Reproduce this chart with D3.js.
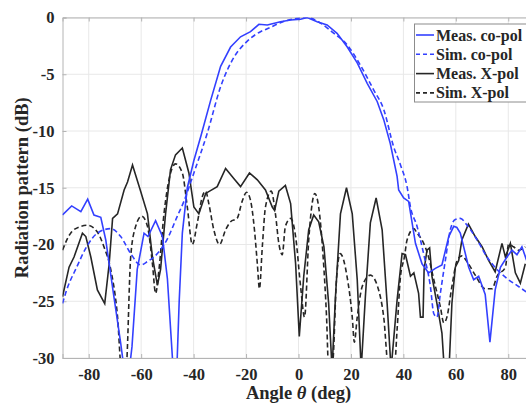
<!DOCTYPE html>
<html>
<head>
<meta charset="utf-8">
<script src="https://cdn.jsdelivr.net/npm/d3@7"></script>
<style>
  body { margin: 0; background: #fff; }
  svg { display: block; }
  text { font-family: "Liberation Serif", "Times New Roman", serif; font-weight: bold; fill: #262626; }
</style>
</head>
<body>
<div id="chart"></div>
<script>
// angle (deg) / level (dB), one pair of arrays per trace
const measCoAngle = [-90,-86.5,-83,-80.4,-78,-75.4,-73.5,-70.4,-67.8,-66.5,-64.5,-63.5,-61.5,-58.9,-57.4,-54.5,-51.9,-50,-47.8,-46.4,-45.5,-44.3,-42.4,-39.9,-37.3,-33.5,-29.7,-25.9,-22.1,-18.3,-15.1,-11.9,-6.9,-3,0.8,3.3,7.1,10.9,14.7,18.6,22.4,26.2,30,32.5,35,37.6,38.2,40.1,42,44.6,47.1,49.6,52.2,54.7,57.3,59.2,60.4,61.7,64.9,66.8,68.7,71.2,73,75,77,79.5,81.4,83.3,85.2,87]
const measCo = [-17.4,-16.6,-17.1,-16,-17.4,-17.6,-19.6,-24.6,-28.7,-31,-31,-29,-22.2,-19,-19.3,-17.9,-19.3,-23,-31,-31,-25,-19,-15,-12.6,-10.5,-7.3,-4.3,-2.6,-1.7,-1.25,-0.6,-0.66,-0.37,-0.22,-0.16,0,-0.37,-0.66,-1.4,-2.6,-4,-5.8,-7.4,-9,-11.1,-14,-15.2,-15.9,-16.2,-19.9,-21.7,-22.5,-22.1,-21.8,-19.3,-18.4,-18.5,-19,-22,-23.1,-22.8,-24.4,-28.6,-24,-22,-21.1,-20.5,-20.9,-20.2,-21.4]

const simCoAngle = [-90,-88.4,-84.6,-80.8,-76.7,-71.6,-67.8,-64,-60.2,-57.6,-53.8,-50,-46.2,-43.7,-39.9,-34.8,-29.7,-24.6,-19.6,-14.5,-11.9,-6.9,-0.5,3.3,8.4,13.5,18.5,23.6,28.7,32.5,36.3,38.9,41.4,42.7,45.2,47.7,50.3,51.6,52.8,54.1,56,57.9,59.8,61.7,64.3,68.1,71.9,75.7,79.5,83.3,87]
const simCo = [-25.2,-24,-22,-20.2,-19,-18.6,-19.3,-20.8,-21.8,-21.5,-20.8,-19.5,-17.5,-16.2,-13.7,-10.2,-6.1,-3.5,-2.1,-1.25,-1,-0.46,-0.07,0,-0.5,-1.4,-2.4,-4.2,-6.4,-8.1,-11.4,-13,-14.9,-16.7,-18.4,-20.8,-23.7,-26.1,-26.4,-24.3,-21.4,-18.7,-17.8,-17.7,-18.3,-19.6,-21.1,-22.2,-23,-23.6,-24.2]

const measXAngle = [-90,-87.5,-85.6,-82.4,-81.1,-79.2,-76.7,-73.9,-72.2,-70.9,-69,-66.5,-65.2,-63.3,-60.2,-57.6,-55.7,-53.8,-52.6,-50.7,-48.8,-46.9,-44.3,-41.8,-39.9,-38,-35.4,-31,-27.8,-24.6,-22.1,-18.7,-15.7,-12.6,-10,-9.1,-7.5,-5,-3,-1.1,0.3,2,3.9,5.8,7.7,9.7,11.5,12.8,14.1,16,18.3,20.5,22.4,23.9,25.5,27.4,29.6,31.9,33.8,35.3,37.6,39.5,40.8,42.7,44,45.8,46.5,47.5,47.9,49,50,50.9,52.8,54.7,55.6,57.4,58.5,59.8,61.1,62.3,64.8,67.4,70,72.5,75,77.6,78.9,80.8,82.7,84.6,86.5]
const measX = [-24.6,-22,-21.1,-19,-19.3,-21.1,-24,-25.2,-21.7,-17.7,-17.3,-15.2,-14.5,-13,-15.3,-17.3,-21.1,-23.6,-22.2,-17.3,-13.4,-12.1,-11.5,-13.7,-16.7,-17.3,-15.5,-14.9,-13.3,-14.2,-14.9,-13.7,-14.3,-15.2,-16.7,-17,-15.3,-14.8,-16.4,-21.7,-28.1,-22.8,-18.7,-17.4,-18,-20.2,-25.2,-31,-24.6,-17.3,-15,-17.3,-23.1,-31,-24.6,-18.1,-15.9,-18.7,-25.2,-31,-24.9,-20.8,-20.9,-22.8,-22.5,-24.3,-26.4,-26.4,-22.2,-20.5,-20.3,-22.8,-25.2,-27.8,-31,-31,-25.2,-22,-21.4,-19.6,-18.2,-19.3,-20.2,-21.4,-22.4,-19.9,-21.1,-19.9,-22.5,-23.4,-21.7]

const simXAngle = [-90,-86.9,-83,-80.5,-76.7,-74.2,-71.6,-69,-67.5,-65.8,-64,-62.1,-59.8,-57.6,-55.7,-54.5,-53.2,-51.3,-49.4,-46.9,-44.3,-42.4,-40.5,-38.6,-36.7,-35.4,-34.2,-32.3,-30.1,-27.8,-25.9,-23.4,-21.5,-19.8,-18.3,-16.8,-15.7,-14.9,-13.8,-12.6,-10.4,-8.8,-7.5,-6.2,-5,-3,-1.1,0.8,2.3,3.9,5.2,6.2,7.7,9.4,10.7,11.5,13,14.5,15.9,18.5,20.5,21.3,22.4,24.3,27.4,30,32.5,34.4,36.5,37.6,38.9,40.4,41.4,44,45.2,47.1,49.6,51.6,54.1,55.4,56.6,58.5,60.5,62.3,64.5,67.4,71.2,73.8,75.7,78.9,80.1,82,83.9,86.5]
const simX = [-20.5,-19,-18.4,-18.3,-18.9,-20.2,-22.2,-26.4,-31,-31,-21.1,-18.4,-17.5,-18.4,-21.7,-24.3,-22.2,-17.3,-14.3,-12.9,-13.7,-16.7,-20,-18.1,-15.8,-15.3,-16.4,-18.7,-20,-18.7,-18,-17.7,-16.2,-15.4,-16.1,-18.7,-21.7,-23.9,-20.2,-16.7,-15.3,-17.3,-19.9,-20.9,-18.4,-17.7,-19.3,-23.7,-26.4,-19.6,-16.4,-15.5,-16.7,-21.1,-26.4,-31,-30.5,-23,-20.8,-22.8,-26.4,-28.6,-26.4,-23.7,-22.7,-23.6,-26.4,-31,-31,-27.5,-22.8,-21.1,-19.6,-18.6,-19,-19.6,-21.1,-23.1,-25.5,-26.9,-26.4,-23.7,-21.4,-21,-21.6,-22.7,-23.9,-23.9,-22.8,-22,-20,-20.2,-20.5,-20.2]

const xTicks = [-80, -60, -40, -20, 0, 20, 40, 60, 80]
const yTicks = [0, -5, -10, -15, -20, -25, -30]
const legendNames = ["Meas. co-pol", "Sim. co-pol", "Meas. X-pol", "Sim. X-pol"]

const width = 526, height = 405
const plotLeft = 62.5, plotTop = 17.5, plotBottom = 358, plotRight = 534.5
const serif = '"Liberation Serif", "Times New Roman", serif'

const svg = d3.select("#chart")
    .append("svg")
    .attr("width", width)
    .attr("height", height)

const x = d3.scaleLinear().domain([-90, 90]).range([plotLeft, plotRight])
const y = d3.scaleLinear().domain([-30, 0]).range([plotBottom, plotTop])

svg.append("defs").append("clipPath").attr("id", "plotClip")
    .append("rect")
    .attr("x", plotLeft).attr("y", plotTop)
    .attr("width", plotRight - plotLeft).attr("height", plotBottom - plotTop)

// grid
svg.append("g")
    .selectAll("line")
    .data(xTicks)
    .enter().append("line")
    .attr("x1", d => x(d)).attr("x2", d => x(d))
    .attr("y1", plotTop).attr("y2", plotBottom)
    .attr("stroke", "#e8e8e8")
svg.append("g")
    .selectAll("line")
    .data(yTicks)
    .enter().append("line")
    .attr("x1", plotLeft).attr("x2", plotRight)
    .attr("y1", d => y(d)).attr("y2", d => y(d))
    .attr("stroke", "#e8e8e8")

// axes (ticks point inward, MATLAB style); plain hyphen minus like the figure
const fmt = d => String(d)
const xAxis = svg.append("g")
    .attr("transform", `translate(0, ${plotBottom})`)
    .call(d3.axisBottom(x).tickValues(xTicks).tickSize(-4).tickPadding(10).tickFormat(fmt))
const xAxisTop = svg.append("g")
    .attr("transform", `translate(0, ${plotTop})`)
    .call(d3.axisTop(x).tickValues(xTicks).tickSize(-4).tickFormat(""))
const yAxis = svg.append("g")
    .attr("transform", `translate(${plotLeft}, 0)`)
    .call(d3.axisLeft(y).tickValues(yTicks).tickSize(-4).tickPadding(8).tickFormat(fmt))

;[xAxis, xAxisTop, yAxis].forEach(g => {
    g.attr("font-family", serif)
     .attr("font-size", 16.5)
     .attr("font-weight", "bold")
    g.select(".domain").attr("stroke", "#b4b4b4")
    g.selectAll(".tick line").attr("stroke", "#b4b4b4")
    g.selectAll(".tick text").attr("fill", "#262626")
})

// curves
const series = [
    { ang: measCoAngle, val: measCo, color: "#3340ff", dash: null, curve: d3.curveLinear },
    { ang: simCoAngle, val: simCo, color: "#3340ff", dash: "5,3", curve: d3.curveMonotoneX },
    { ang: measXAngle, val: measX, color: "#262626", dash: null, curve: d3.curveLinear },
    { ang: simXAngle, val: simX, color: "#262626", dash: "5,3", curve: d3.curveMonotoneX }
]

const plot = svg.append("g").attr("clip-path", "url(#plotClip)")

series.slice().reverse().forEach(s => {
    const pts = s.ang.map((a, i) => [a, s.val[i]])
    const line = d3.line().x(d => x(d[0])).y(d => y(d[1])).curve(s.curve)
    plot.append("path")
        .datum(pts)
        .attr("d", line)
        .attr("fill", "none")
        .attr("stroke", s.color)
        .attr("stroke-width", 1.6)
        .attr("stroke-dasharray", s.dash)
})

// legend
const lg = svg.append("g")
lg.append("rect")
    .attr("x", 414.5).attr("y", 24)
    .attr("width", 120).attr("height", 78)
    .attr("fill", "#fff")
    .attr("stroke", "#8c8c8c")

lg.selectAll("g.item")
    .data(series)
    .enter().append("g")
    .attr("class", "item")
    .each(function (s, i) {
        const g = d3.select(this)
        const cy = 35 + i * 19.3
        g.append("line")
            .attr("x1", 416).attr("x2", 434)
            .attr("y1", cy).attr("y2", cy)
            .attr("stroke", s.color)
            .attr("stroke-width", 1.6)
            .attr("stroke-dasharray", s.dash ? "4,3" : null)
        g.append("text")
            .attr("x", 436).attr("y", cy + 5.5)
            .style("font-size", "16px")
            .text(legendNames[i])
    })

// axis labels
svg.append("text")
    .attr("x", x(0)).attr("y", 398.5)
    .attr("text-anchor", "middle")
    .style("font-size", "18.5px")
    .html('Angle <tspan font-style="italic">θ</tspan> (deg)')

svg.append("text")
    .attr("transform", `translate(28, ${(plotTop + plotBottom) / 2}) rotate(-90)`)
    .attr("text-anchor", "middle")
    .style("font-size", "18.5px")
    .text("Radiation pattern (dB)")
</script>
</body>
</html>
